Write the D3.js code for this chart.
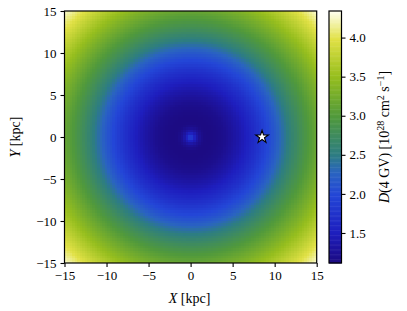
<!DOCTYPE html>
<html><head><meta charset="utf-8">
<script src="https://cdn.jsdelivr.net/npm/d3@7"></script>
<style>
body{margin:0;background:#fff;}
text{font-family:"Liberation Serif","DejaVu Serif",serif;fill:#000;}
</style></head>
<body><svg id="c" width="407" height="311"></svg>
<script>
const radii   = [0, 0.25, 0.5, 0.75, 1, 1.5, 2, 3, 4, 5, 6, 7, 8, 9, 10, 11, 12, 13, 14, 15, 16, 17, 18, 19, 20, 21, 22];
const dValues = [1.95, 1.75, 1.52, 1.36, 1.25, 1.15, 1.13, 1.15, 1.2, 1.3, 1.42, 1.58, 1.75, 1.95, 2.15, 2.38, 2.6, 2.8, 2.98, 3.15, 3.32, 3.5, 3.68, 3.86, 4.05, 4.24, 4.34];
const cellSize = 0.3;
const xTicks = [-15, -10, -5, 0, 5, 10, 15];
const yTicks = [-15, -10, -5, 0, 5, 10, 15];
const cbTicks = [1.5, 2.0, 2.5, 3.0, 3.5, 4.0];
const cbDomain = [1.116, 4.34];
const sunPos = [8.5, 0];
const cmapStops = [0, 0.12, 0.27, 0.36, 0.43, 0.58, 0.74, 0.89, 1];
const cmapColors = ["#1c0a80", "#1e1ebe", "#2346d7", "#2a64c0", "#2d7d82", "#50993c", "#96be1e", "#e1e146", "#fffff0"];

const svg = d3.select("#c");
const L = 64.5, R = 316.7, T = 11, B = 263;
const x = d3.scaleLinear().domain([-15, 15]).range([L, R]);
const y = d3.scaleLinear().domain([-15, 15]).range([B, T]);
const profile = d3.scaleLinear().domain(radii).range(dValues).clamp(true);
const tScale = d3.scaleLinear().domain(cbDomain).range([0, 1]).clamp(true);
const cmap = d3.scaleLinear().domain(cmapStops).range(cmapColors).interpolate(d3.interpolateRgb);
const color = v => cmap(tScale(v));

// grid
const n = Math.round(30 / cellSize);
const cells = [];
for (let i = 0; i < n; i++)
  for (let j = 0; j < n; j++) {
    const gx = -15 + i * cellSize, gy = -15 + j * cellSize;
    cells.push({gx, gy, v: profile(Math.hypot(gx + cellSize / 2, gy + cellSize / 2))});
  }
svg.append("g").selectAll("rect").data(cells).join("rect")
  .attr("x", d => x(d.gx)).attr("y", d => y(d.gy + cellSize))
  .attr("width", x(cellSize) - x(0) + 0.4).attr("height", y(0) - y(cellSize) + 0.4)
  .attr("fill", d => color(d.v)).attr("shape-rendering", "crispEdges");

// sun
svg.append("path").attr("d", d3.symbol().type(d3.symbolStar).size(50)())
  .attr("transform", `translate(${x(sunPos[0])},${y(sunPos[1])})`)
  .attr("fill", "#fff").attr("stroke", "#000").attr("stroke-width", 1.1);

// frame
svg.append("rect").attr("x", L).attr("y", T).attr("width", R - L).attr("height", B - T)
  .attr("fill", "none").attr("stroke", "#000").attr("stroke-width", 1.2);

const fmt = v => (v < 0 ? "\u2212" : "") + Math.abs(v);
const xa = svg.append("g").attr("transform", `translate(0,${B})`)
  .call(d3.axisBottom(x).tickValues(xTicks).tickFormat(fmt).tickSize(4).tickPadding(4));
const ya = svg.append("g").attr("transform", `translate(${L},0)`)
  .call(d3.axisLeft(y).tickValues(yTicks).tickFormat(fmt).tickSize(4).tickPadding(4));
[xa, ya].forEach(a => {
  a.select(".domain").remove();
  a.selectAll("line").attr("stroke", "#000").attr("stroke-width", 1.1);
  a.selectAll("text").attr("font-size", "13px").attr("font-family", "Liberation Serif, serif");
});

svg.append("text").attr("x", (L + R) / 2 - 1).attr("y", 303).attr("text-anchor", "middle")
  .attr("font-size", "14px")
  .html('<tspan font-style="italic">X</tspan> [kpc]');
svg.append("text").attr("transform", `translate(20,${(T + B) / 2}) rotate(-90)`)
  .attr("text-anchor", "middle").attr("font-size", "14px")
  .html('<tspan font-style="italic">Y</tspan> [kpc]');

// colorbar
const cbL = 329, cbR = 341.5;
const cy = d3.scaleLinear().domain(cbDomain).range([B, T]);
const steps = d3.range(0, 200).map(i => cbDomain[0] + (cbDomain[1] - cbDomain[0]) * i / 200);
const dv = (cbDomain[1] - cbDomain[0]) / 200;
svg.append("g").selectAll("rect").data(steps).join("rect")
  .attr("x", cbL).attr("width", cbR - cbL)
  .attr("y", d => cy(d + dv)).attr("height", d => cy(d) - cy(d + dv) + 0.5)
  .attr("fill", d => color(d + dv / 2));
svg.append("rect").attr("x", cbL).attr("y", T).attr("width", cbR - cbL).attr("height", B - T)
  .attr("fill", "none").attr("stroke", "#000").attr("stroke-width", 1.2);
const ca = svg.append("g").attr("transform", `translate(${cbR},0)`)
  .call(d3.axisRight(cy).tickValues(cbTicks).tickFormat(d3.format(".1f")).tickSize(4).tickPadding(4));
ca.select(".domain").remove();
ca.selectAll("line").attr("stroke", "#000").attr("stroke-width", 1.1);
ca.selectAll("text").attr("font-size", "13px").attr("font-family", "Liberation Serif, serif");

svg.append("text").attr("transform", `translate(389,${(T + B) / 2}) rotate(-90)`)
  .attr("text-anchor", "middle").attr("font-size", "14px")
  .html('<tspan font-style="italic">D</tspan>(4 GV) [10<tspan dy="-5" font-size="10px">28</tspan><tspan dy="5"> cm</tspan><tspan dy="-5" font-size="10px">2</tspan><tspan dy="5"> s</tspan><tspan dy="-5" font-size="10px">\u22121</tspan><tspan dy="5">]</tspan>');
</script></body></html>
